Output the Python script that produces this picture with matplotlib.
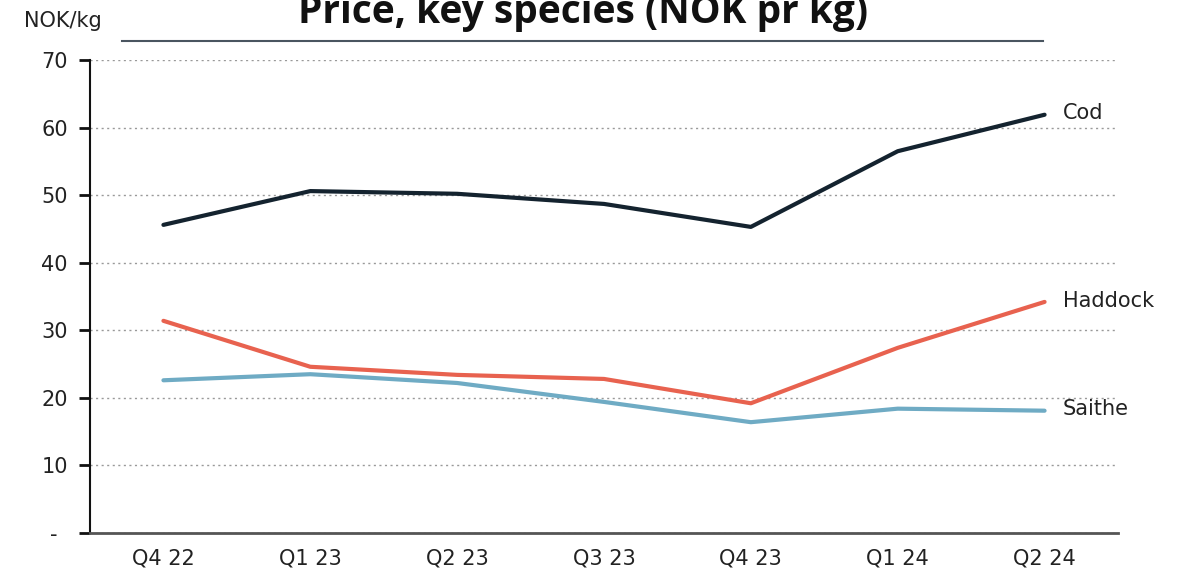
import matplotlib
matplotlib.use('Agg')
import matplotlib.pyplot as plt
from matplotlib.lines import Line2D

# ── data ─────────────────────────────────────────────
quarters = ["Q4 22", "Q1 23", "Q2 23", "Q3 23", "Q4 23", "Q1 24", "Q2 24"]
cod = [45.6, 50.6, 50.2, 48.7, 45.3, 56.5, 61.9]
haddock = [31.4, 24.6, 23.4, 22.8, 19.2, 27.4, 34.2]
saithe = [22.6, 23.5, 22.2, 19.4, 16.4, 18.4, 18.1]
yticks = [0, 10, 20, 30, 40, 50, 60, 70]
ytick_labels = ["-\u2002", "10", "20", "30", "40", "50", "60", "70"]

COLORS = {
    "Cod": "#14232f",
    "Haddock": "#e8624f",
    "Saithe": "#6fabc4",
}

plt.rcParams['font.family'] = ['DejaVu Sans']

fig = plt.figure(figsize=(11.99, 5.70), dpi=100)
ax = fig.add_axes([90 / 1199, 1 - 533 / 570, (1118 - 90) / 1199, (533 - 60) / 570])

x = range(len(quarters))
for name, vals in [("Cod", cod), ("Haddock", haddock), ("Saithe", saithe)]:
    ax.plot(x, vals, color=COLORS[name], lw=3, solid_capstyle='round')
    ax.annotate(name, xy=(len(quarters) - 1, vals[-1]), xytext=(13, 1),
                textcoords='offset points', va='center', ha='left',
                fontsize=15, color='#222222', annotation_clip=False)

ax.set_xlim(-0.5, 6.5)
ax.set_ylim(0, 70)
ax.set_yticks(yticks)
ax.set_yticklabels(ytick_labels)
ax.set_xticks(list(x))
ax.set_xticklabels(quarters)
ax.grid(axis='y', linestyle=(0, (1.5, 2.5)), color='#999999', lw=1)
ax.set_axisbelow(True)

for s in ['top', 'right']:
    ax.spines[s].set_visible(False)
ax.spines['left'].set_color('#111111')
ax.spines['left'].set_linewidth(1.5)
ax.spines['bottom'].set_color('#555555')
ax.spines['bottom'].set_linewidth(2)
ax.tick_params(axis='y', length=8, width=2, color='#111111', labelsize=15,
               labelcolor='#222222', pad=8)
ax.tick_params(axis='x', length=0, labelsize=15, labelcolor='#222222', pad=11)

# title, partly cut off at the top like the original
fig.text(583 / 1199, 1 - 23 / 570, "Price, key species (NOK pr kg)", ha='center',
         va='baseline', fontsize=28, fontweight='bold', color='#111111',
         family='Open Sans')
fig.text(24 / 1199, 1 - 21 / 570, "NOK/kg", ha='left', va='center', fontsize=15,
         color='#222222')
fig.add_artist(Line2D([122 / 1199, 1043 / 1199], [1 - 41 / 570, 1 - 41 / 570],
                      color='#4a5560', lw=1.5, transform=fig.transFigure))

plt.savefig('out.png', dpi=100)
plt.close()
